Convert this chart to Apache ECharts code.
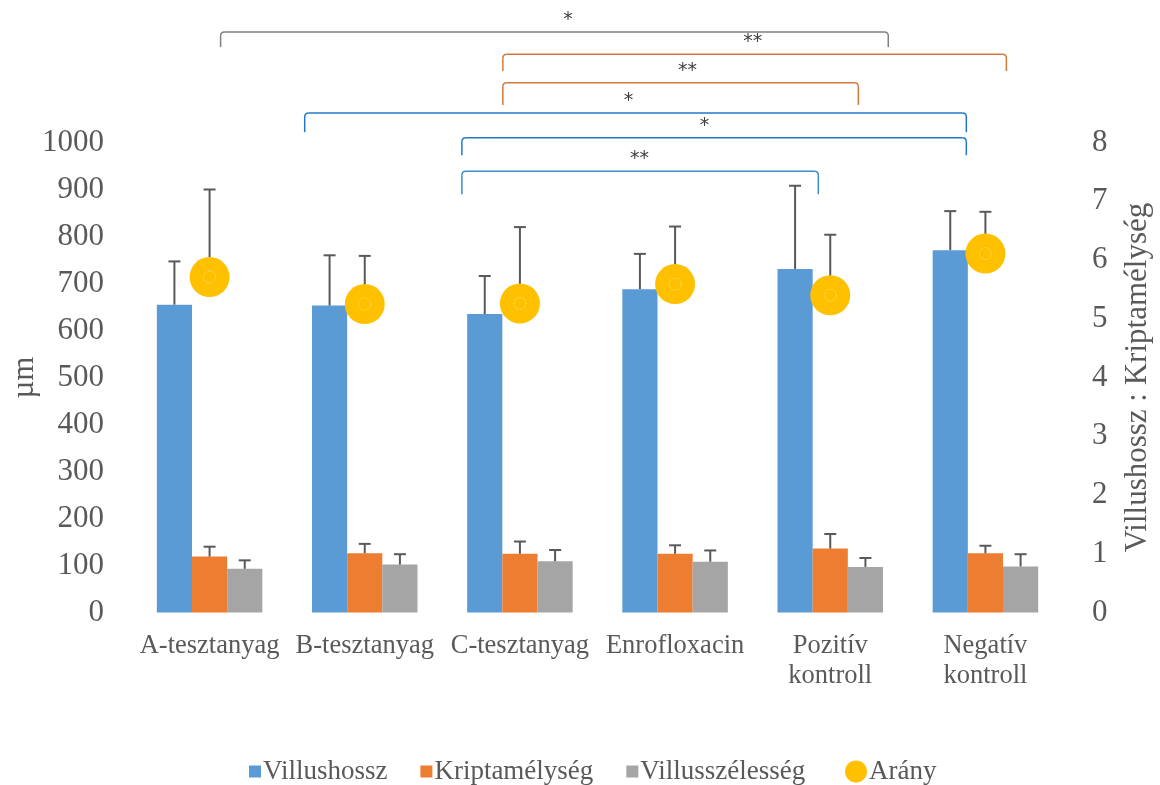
<!DOCTYPE html>
<html>
<head>
<meta charset="utf-8">
<title>Villusméretek</title>
<script src="https://cdn.jsdelivr.net/npm/echarts@6/dist/echarts.min.js"></script>
<style>
  html, body { margin: 0; padding: 0; background: #ffffff; }
  #chart { width: 1160px; height: 785px; }
</style>
</head>
<body>
<div id="chart"></div>
<script>
// Kategóriák és mért értékek (átlag és szórás)
const categories = ['A-tesztanyag', 'B-tesztanyag', 'C-tesztanyag', 'Enrofloxacin', 'Pozitív\nkontroll', 'Negatív\nkontroll'];
const villushossz = [655, 653, 635, 688, 731, 771];
const villushosszSD = [92, 107, 81, 75, 177, 83];
const kriptamelyseg = [119, 126, 125, 125, 136, 126];
const kriptamelysegSD = [21, 20, 26, 18, 31, 16];
const villusszelesseg = [93, 102, 109, 108, 97, 98];
const villusszelessegSD = [18, 22, 24, 24, 19, 26];
const arany = [5.71, 5.25, 5.26, 5.59, 5.40, 6.11];
const aranySD = [1.49, 0.82, 1.30, 0.98, 1.03, 0.71];

const leftTicks = { min: 0, max: 1000, interval: 100 };
const rightTicks = { min: 0, max: 8, interval: 1 };

// Szignifikancia-jelölések: kezdő és záró pozíció kategóriaegységben,
// vízszintes szint és szárvég µm-ben, felirat helye, szín
const brackets = [
  { from: 0.071, to: 4.374, level: 1235, foot: 1203, label: '*',  labelAt: 2.31, color: '#7f7f7f' },
  { from: 1.890, to: 5.135, level: 1188, foot: 1152, label: '**', labelAt: 3.50, color: '#d2783c' },
  { from: 1.890, to: 4.181, level: 1127, foot: 1080, label: '**', labelAt: 3.08, color: '#d2783c' },
  { from: 0.613, to: 4.877, level: 1063, foot: 1022, label: '*',  labelAt: 2.70, color: '#1f78c8' },
  { from: 1.626, to: 4.877, level: 1010, foot: 973,  label: '*',  labelAt: 3.19, color: '#1f78c8' },
  { from: 1.626, to: 3.923, level: 939,  foot: 890,  label: '**', labelAt: 2.77, color: '#3a8bd0' }
];

const COLORS = { hossz: '#5b9bd5', kripta: '#ed7d31', szel: '#a5a5a5', arany: '#ffc000' };
const TEXT = '#595959';
const FONT = '"Liberation Serif", "Times New Roman", serif';
const CATEGORY_GAP = 0.32;

// Felfelé mutató hibasáv egy oszlophoz (slot: -1, 0, 1 az oszlopcsoportban)
function barErrorRenderer(slot) {
  return function (params, api) {
    const idx = api.value(0);
    const v = api.value(1);
    const e = api.value(2);
    const band = api.size([1, 0])[0];
    const barW = band * (1 - CATEGORY_GAP) / 3;
    const base = api.coord([idx, v]);
    const top = api.coord([idx, v + e]);
    const x = base[0] + slot * barW;
    const style = { stroke: '#595959', lineWidth: 2 };
    return {
      type: 'group',
      children: [
        { type: 'line', shape: { x1: x, y1: base[1], x2: x, y2: top[1] }, style: style },
        { type: 'line', shape: { x1: x - 6, y1: top[1], x2: x + 6, y2: top[1] }, style: style }
      ]
    };
  };
}

function errSeries(values, sd, slot, yAxisIndex) {
  return {
    type: 'custom',
    yAxisIndex: yAxisIndex,
    renderItem: barErrorRenderer(slot),
    data: values.map((v, i) => [i, v, sd[i]]),
    encode: { x: 0, y: 1 },
    silent: true,
    z: 3
  };
}

const chart = echarts.init(document.getElementById('chart'), null, { renderer: 'canvas' });

const option = {
  animation: false,
  backgroundColor: '#ffffff',
  textStyle: { fontFamily: FONT },
  grid: { left: 132, right: 97, top: 142.5, bottom: 172.5, containLabel: false, outerBoundsMode: 'none' },
  legend: [
    {
      data: ['Villushossz', 'Kriptamélység', 'Villusszélesség'],
      left: 244, top: 753,
      itemWidth: 12, itemHeight: 12, itemGap: 33,
      icon: 'rect',
      textStyle: { color: TEXT, fontSize: 27, fontFamily: FONT, padding: [0, 0, 0, -3] }
    },
    {
      data: ['Arány'],
      left: 840, top: 753,
      itemWidth: 22, itemHeight: 22,
      icon: 'circle',
      textStyle: { color: TEXT, fontSize: 27, fontFamily: FONT, padding: [0, 0, 0, -3] }
    }
  ],
  xAxis: {
    type: 'category',
    data: categories,
    axisLine: { show: false },
    axisTick: { show: false },
    axisLabel: { color: TEXT, fontSize: 26.5, fontFamily: FONT, margin: 19, lineHeight: 30, interval: 0 }
  },
  yAxis: [
    {
      type: 'value',
      min: leftTicks.min, max: leftTicks.max, interval: leftTicks.interval,
      name: 'µm',
      nameLocation: 'middle',
      nameGap: 92,
      nameMoveOverlap: false,
      nameTextStyle: { color: TEXT, fontSize: 31, fontFamily: FONT },
      splitLine: { show: false },
      axisLine: { show: false },
      axisTick: { show: false },
      axisLabel: { color: TEXT, fontSize: 31, fontFamily: FONT, margin: 28, formatter: v => String(v) }
    },
    {
      type: 'value',
      position: 'right',
      min: rightTicks.min, max: rightTicks.max, interval: rightTicks.interval,
      name: 'Villushossz : Kriptamélység',
      nameLocation: 'middle',
      nameRotate: 90,
      nameGap: 59,
      nameMoveOverlap: false,
      nameTextStyle: { color: TEXT, fontSize: 31, fontFamily: FONT },
      splitLine: { show: false },
      axisLine: { show: false },
      axisTick: { show: false },
      axisLabel: { color: TEXT, fontSize: 31, fontFamily: FONT, margin: 29, formatter: v => String(v) }
    }
  ],
  series: [
    {
      name: 'Villushossz', type: 'bar', data: villushossz,
      barGap: 0, barCategoryGap: (CATEGORY_GAP * 100) + '%',
      itemStyle: { color: COLORS.hossz }, z: 2
    },
    {
      name: 'Kriptamélység', type: 'bar', data: kriptamelyseg,
      itemStyle: { color: COLORS.kripta }, z: 2
    },
    {
      name: 'Villusszélesség', type: 'bar', data: villusszelesseg,
      itemStyle: { color: COLORS.szel }, z: 2
    },
    errSeries(villushossz, villushosszSD, -1, 0),
    errSeries(kriptamelyseg, kriptamelysegSD, 0, 0),
    errSeries(villusszelesseg, villusszelessegSD, 1, 0),
    errSeries(arany, aranySD, 0, 1),
    {
      name: 'Arány', type: 'scatter', yAxisIndex: 1, data: arany,
      symbol: 'circle', symbolSize: 40,
      itemStyle: { color: COLORS.arany, opacity: 1 },
      z: 5
    },
    {
      // halvány belső gyűrű a jelölők közepén
      type: 'scatter', yAxisIndex: 1, data: arany,
      symbol: 'circle', symbolSize: 12, silent: true,
      itemStyle: { color: 'rgba(0,0,0,0)', borderColor: 'rgba(255,232,160,0.95)', borderWidth: 1, borderType: 'dotted' },
      z: 6
    }
  ]
};

chart.setOption(option);

// Zárójelek rajzolása a tengelyek skáláján keresztül
function drawBrackets() {
  const x0 = chart.convertToPixel({ xAxisIndex: 0 }, 0);
  const x1 = chart.convertToPixel({ xAxisIndex: 0 }, 1);
  const step = x1 - x0;
  const y0 = chart.convertToPixel({ yAxisIndex: 0 }, 0);
  const yMax = chart.convertToPixel({ yAxisIndex: 0 }, leftTicks.max);
  const py = v => y0 + (yMax - y0) * v / leftTicks.max;
  const px = c => x0 + step * c;
  const r = 4;
  const elements = [];
  brackets.forEach(b => {
    const xa = px(b.from), xb = px(b.to), yt = py(b.level), yf = py(b.foot);
    const style = { stroke: b.color, lineWidth: 1.5, fill: null };
    const parts = [
      { type: 'line', shape: { x1: xa, y1: yf, x2: xa, y2: yt + r } },
      { type: 'bezierCurve', shape: { x1: xa, y1: yt + r, cpx1: xa, cpy1: yt, x2: xa + r, y2: yt } },
      { type: 'line', shape: { x1: xa + r, y1: yt, x2: xb - r, y2: yt } },
      { type: 'bezierCurve', shape: { x1: xb - r, y1: yt, cpx1: xb, cpy1: yt, x2: xb, y2: yt + r } },
      { type: 'line', shape: { x1: xb, y1: yt + r, x2: xb, y2: yf } }
    ];
    parts.forEach(p => {
      p.silent = true;
      p.z = 10;
      p.style = style;
      elements.push(p);
    });
    elements.push({
      type: 'text', silent: true, z: 10,
      x: px(b.labelAt), y: yt - 12,
      style: { text: b.label, fill: '#404040', font: '19px "DejaVu Sans", sans-serif', align: 'center', verticalAlign: 'middle' }
    });
  });
  chart.setOption({ graphic: elements });
}

drawBrackets();
</script>
</body>
</html>
